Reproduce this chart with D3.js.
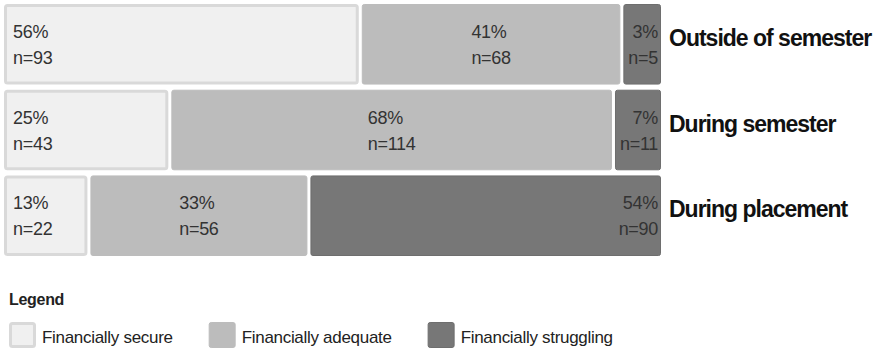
<!DOCTYPE html>
<html>
<head>
<meta charset="utf-8">
<script src="https://cdn.jsdelivr.net/npm/d3@7"></script>
<style>
  html, body { margin: 0; padding: 0; background: #fff; }
  svg { display: block; font-family: "Liberation Sans", Arial, sans-serif; }
</style>
</head>
<body>
<svg id="chart" width="877" height="352"></svg>
<script>
// ---- data ----
const categories = ["Outside of semester", "During semester", "During placement"];
const seriesNames = ["Financially secure", "Financially adequate", "Financially struggling"];
const secureN = [93, 43, 22];
const adequateN = [68, 114, 56];
const strugglingN = [5, 11, 90];
const securePct = [56, 25, 13];
const adequatePct = [41, 68, 33];
const strugglingPct = [3, 7, 54];
const legendTitle = "Legend";

// ---- styles ----
const fills = ["#f0f0f0", "#bcbcbc", "#777777"];
const strokes = ["#d9d9d9", "#bcbcbc", "#6e6e6e"];

const svg = d3.select("#chart");
const left = 4, right = 661, gap = 3, pad = 8;

const y = d3.scaleBand().domain(categories).range([4, 256]).paddingInner(0.06);

// measure label widths
const measure = svg.append("text").style("font-size", "18px").style("letter-spacing", "-0.3px");
function textW(s) { measure.text(s); return measure.node().getComputedTextLength(); }

const rows = categories.map((c, i) => ({
  cat: c,
  n: [secureN[i], adequateN[i], strugglingN[i]],
  pct: [securePct[i], adequatePct[i], strugglingPct[i]]
}));

rows.forEach(row => {
  const total = d3.sum(row.n);
  const full = right - left + gap;
  const x = d3.scaleLinear().domain([0, total]).range([0, full]);
  const minW = row.n.map((v, i) => Math.max(textW(row.pct[i] + "%"), textW("n=" + v)) + pad + gap);
  let w = row.n.map(v => x(v));
  // segments too narrow for their labels get the label width, others rescale
  const small = w.map((v, i) => v < minW[i]);
  if (small.some(s => s)) {
    const rest = full - d3.sum(minW.filter((m, i) => small[i]));
    const restTotal = d3.sum(row.n.filter((v, i) => !small[i]));
    const xr = d3.scaleLinear().domain([0, restTotal]).range([0, rest]);
    w = row.n.map((v, i) => small[i] ? minW[i] : xr(v));
  }
  let start = left;
  const top = y(row.cat), h = y.bandwidth();
  const g = svg.append("g");
  row.n.forEach((v, i) => {
    const sw = i === 0 ? 3 : 1;
    const rw = w[i] - gap;
    g.append("rect")
      .attr("x", start + sw / 2).attr("y", top + sw / 2)
      .attr("width", rw - sw).attr("height", h - sw)
      .attr("rx", 2).attr("ry", 2)
      .attr("fill", fills[i]).attr("stroke", strokes[i]).attr("stroke-width", sw);

    const lines = [row.pct[i] + "%", "n=" + v];
    const t = g.append("g").attr("fill", "#333").style("font-size", "18px").style("letter-spacing", "-0.3px");
    const texts = lines.map((s, k) => t.append("text").attr("y", top + 34 + k * 26).text(s));
    if (i === 0) {
      texts.forEach(tx => tx.attr("x", start + 9));
    } else if (i === 2) {
      texts.forEach(tx => tx.attr("x", start + rw - 3).attr("text-anchor", "end"));
    } else {
      const bw = d3.max(texts, tx => tx.node().getComputedTextLength());
      texts.forEach(tx => tx.attr("x", start + rw / 2 - bw / 2));
    }
    start += w[i];
  });
  svg.append("text")
    .attr("x", 669).attr("y", top + 42)
    .attr("fill", "#111")
    .style("font-size", "23px").style("font-weight", "bold").style("letter-spacing", "-1px")
    .text(row.cat);
});
measure.remove();

// ---- legend ----
svg.append("text").attr("x", 9).attr("y", 305)
  .attr("fill", "#222").style("font-size", "16px").style("font-weight", "bold")
  .style("letter-spacing", "-0.3px").text(legendTitle);

let lx = 9;
seriesNames.forEach((name, i) => {
  const sw = i === 0 ? 3 : 1;
  svg.append("rect")
    .attr("x", lx + sw / 2).attr("y", 322 + sw / 2)
    .attr("width", 27 - sw).attr("height", 26 - sw)
    .attr("rx", 2).attr("fill", fills[i]).attr("stroke", strokes[i]).attr("stroke-width", sw);
  const t = svg.append("text").attr("x", lx + 33).attr("y", 343)
    .attr("fill", "#222").style("font-size", "17px").style("letter-spacing", "-0.3px")
    .text(name);
  lx = lx + 33 + t.node().getComputedTextLength() + 36;
});
</script>
</body>
</html>
